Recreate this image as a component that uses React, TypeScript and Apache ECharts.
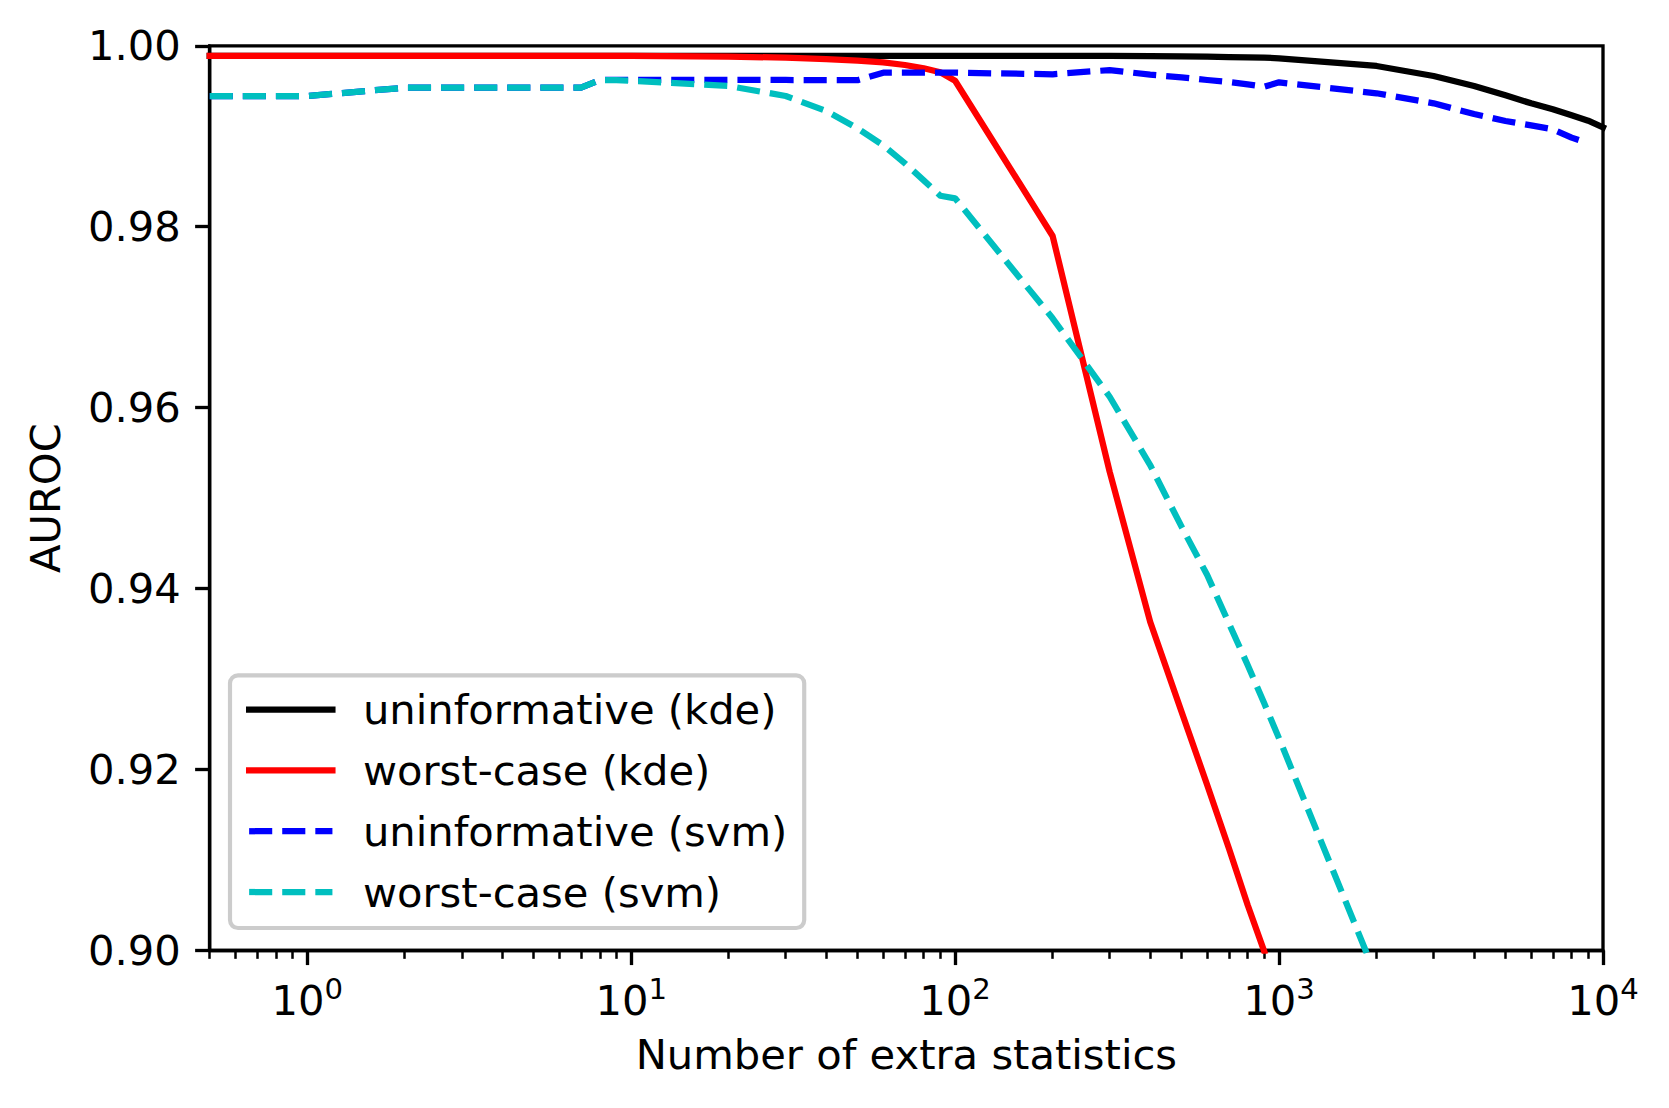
import React, { useEffect, useRef } from 'react';
import * as echarts from 'echarts';

// ---- data ----
const xValues = [
  0.5, 1, 2, 3, 4, 5, 6, 7, 8, 9,
  10, 20, 30, 40, 50, 60, 70, 80, 90,
  100, 200, 300, 400, 500, 600, 700, 800, 900,
  1000, 2000, 3000, 4000, 5000, 6000, 7000, 8000, 9000, 10000,
];

const uninformativeKde = [
  0.9989, 0.9989, 0.9989, 0.9989, 0.9989, 0.9989, 0.9989, 0.9989, 0.9989, 0.9989,
  0.9989, 0.9989, 0.9989, 0.9989, 0.9989, 0.9989, 0.9989, 0.9989, 0.9989,
  0.9989, 0.9989, 0.99888, 0.99885, 0.99882, 0.99879, 0.99876, 0.99873, 0.99869,
  0.99862, 0.99777, 0.99666, 0.99556, 0.99453, 0.99364, 0.99298, 0.99232, 0.99172, 0.99099,
];

const worstCaseKde = [
  0.9989, 0.9989, 0.9989, 0.9989, 0.9989, 0.9989, 0.9989, 0.9989, 0.9989, 0.9989,
  0.99888, 0.9988, 0.99869, 0.99854, 0.99835, 0.99817, 0.99788, 0.99751, 0.99707,
  0.99614, 0.97898, 0.95292, 0.93634, 0.9264, 0.91829, 0.91129, 0.90503, 0.8999,
  null, null, null, null, null, null, null, null, null, null,
];

const uninformativeSvm = [
  0.99445, 0.99445, 0.99537, 0.99537, 0.99537, 0.99537, 0.99537, 0.99537, 0.99622, 0.99622,
  0.99622, 0.99622, 0.99622, 0.9962, 0.9962, 0.99703, 0.99703, 0.99703, 0.99703,
  0.99703, 0.99685, 0.99732, 0.99681, 0.99651, 0.99622, 0.996, 0.99574, 0.99548,
  0.99596, 0.99475, 0.99364, 0.99246, 0.99169, 0.99121, 0.99077, 0.98985, 0.98922, null,
];

const worstCaseSvm = [
  0.99445, 0.99445, 0.99537, 0.99537, 0.99537, 0.99537, 0.99537, 0.99537, 0.99622, 0.9962,
  0.99615, 0.99556, 0.99445, 0.99279, 0.99088, 0.989, 0.98701, 0.98513, 0.98343,
  0.98314, 0.96988, 0.96121, 0.95366, 0.94685, 0.9415, 0.93617, 0.93156, 0.92732,
  0.92345, 0.89703, null, null, null, null, null, null, null, null,
];

const seriesNames = [
  'uninformative (kde)',
  'worst-case (kde)',
  'uninformative (svm)',
  'worst-case (svm)',
];

const majorTicksX = [1, 10, 100, 1000, 10000];
const minorTicksX = [
  0.5, 0.6, 0.7, 0.8, 0.9,
  2, 3, 4, 5, 6, 7, 8, 9,
  20, 30, 40, 50, 60, 70, 80, 90,
  200, 300, 400, 500, 600, 700, 800, 900,
  2000, 3000, 4000, 5000, 6000, 7000, 8000, 9000,
];

const xAxisTitle = 'Number of extra statistics';
const yAxisTitle = 'AUROC';

// ---- styling ----
const FONT = 'DejaVu Sans';
const FS = 41.67;
const LW = 6.25;
const DASH = [23.1, 10];
const SPINE = 3.33;

function pairs(ys: (number | null)[]) {
  return xValues
    .map((x, i) => [x, ys[i]] as [number, number | null])
    .filter((p) => p[1] !== null);
}

export default function App() {
  const ref = useRef<HTMLDivElement>(null);

  useEffect(() => {
    document.body.style.margin = '0';
    const chart = echarts.init(ref.current as HTMLDivElement, null, { renderer: 'svg' });

    const axisLineStyle = { color: '#000', width: SPINE };

    const mkSeries = (name: string, ys: (number | null)[], color: string, dashed: boolean) => ({
      name,
      type: 'line',
      data: pairs(ys),
      symbol: 'none',
      showSymbol: false,
      color,
      itemStyle: { color },
      lineStyle: {
        color,
        width: LW,
        type: dashed ? DASH : 'solid',
        cap: dashed ? 'butt' : 'square',
        join: 'round',
      },
      clip: true,
      emphasis: { disabled: true },
      silent: true,
    });

    const option: any = {
      animation: false,
      backgroundColor: '#ffffff',
      textStyle: { fontFamily: FONT, color: '#000' },
      grid: {
        left: 209.7,
        right: 66,
        top: 45.8,
        bottom: 157.5,
        show: true,
        borderColor: '#000',
        borderWidth: SPINE,
        backgroundColor: 'transparent',
        containLabel: false,
        outerBoundsMode: 'none',
      },
      xAxis: [
        {
          type: 'log',
          logBase: 10,
          min: 0.5,
          max: 10000,
          position: 'bottom',
          name: xAxisTitle,
          nameLocation: 'middle',
          nameGap: 83,
          nameTextStyle: { fontSize: FS, fontFamily: FONT, color: '#000', lineHeight: 42 },
          axisLine: { show: true, onZero: false, lineStyle: axisLineStyle },
          axisTick: { show: true, length: 14.58, lineStyle: axisLineStyle, customValues: majorTicksX },
          axisLabel: {
            show: true,
            customValues: majorTicksX,
            margin: 24,
            formatter: (v: number) => `{b|10}{s|${Math.round(Math.log10(v))}}`,
            rich: {
              b: { fontSize: FS, fontFamily: FONT, color: '#000', lineHeight: 47, verticalAlign: 'bottom' },
              s: { fontSize: 29.17, fontFamily: FONT, color: '#000', lineHeight: 29, verticalAlign: 'top' },
            },
          },
          splitLine: { show: false },
          minorTick: { show: false },
          minorSplitLine: { show: false },
        },
        {
          type: 'log',
          logBase: 10,
          min: 0.5,
          max: 10000,
          position: 'bottom',
          axisLine: { show: false },
          axisTick: { show: true, length: 8.33, lineStyle: { color: '#000', width: 2.5 }, customValues: minorTicksX },
          axisLabel: { show: false },
          splitLine: { show: false },
          minorTick: { show: false },
        },
      ],
      yAxis: {
        type: 'value',
        min: 0.9,
        max: 1.0,
        interval: 0.02,
        name: yAxisTitle,
        nameLocation: 'middle',
        nameRotate: 90,
        nameGap: 143.7,
        nameTextStyle: { fontSize: FS, fontFamily: FONT, color: '#000', lineHeight: 42 },
        axisLine: { show: true, onZero: false, lineStyle: axisLineStyle },
        axisTick: { show: true, length: 14.58, lineStyle: axisLineStyle },
        axisLabel: {
          margin: 29,
          fontSize: FS,
          fontFamily: FONT,
          color: '#000',
          formatter: (v: number) => v.toFixed(2),
        },
        splitLine: { show: false },
      },
      legend: {
        orient: 'vertical',
        left: 230,
        top: 675.3,
        itemWidth: 83.3,
        itemHeight: 42,
        itemGap: 18.77,
        padding: [13.4, 17, 15, 16],
        backgroundColor: 'rgba(255,255,255,0.8)',
        borderColor: '#cccccc',
        borderWidth: 4.17,
        borderRadius: 8,
        selectedMode: false,
        textStyle: {
          fontSize: FS,
          fontFamily: FONT,
          color: '#000',
          lineHeight: 42,
          padding: [0, 0, 0, 25.5],
        },
        itemStyle: { opacity: 0 },
        lineStyle: { width: LW },
        data: seriesNames,
      },
      series: [
        mkSeries(seriesNames[0], uninformativeKde, '#000000', false),
        mkSeries(seriesNames[1], worstCaseKde, '#ff0000', false),
        mkSeries(seriesNames[2], uninformativeSvm, '#0000ff', true),
        mkSeries(seriesNames[3], worstCaseSvm, '#00bfbf', true),
      ],
    };

    chart.setOption(option);
    return () => chart.dispose();
  }, []);

  return (
    <div
      ref={ref}
      style={{ position: 'absolute', left: 0, top: 0, width: 1669, height: 1108, background: '#fff' }}
    />
  );
}
